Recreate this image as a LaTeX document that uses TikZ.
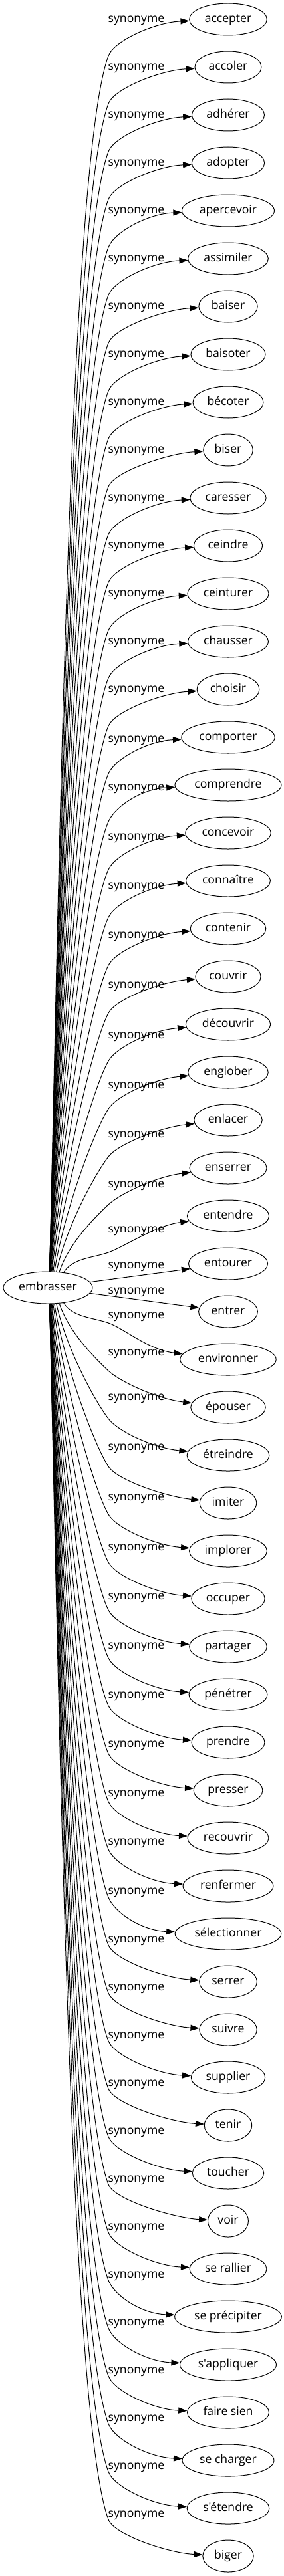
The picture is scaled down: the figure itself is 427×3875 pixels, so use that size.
\documentclass[tikz,border=0pt]{standalone}
\usepackage{fontspec}
\setmainfont{Open Sans}[Ligatures=TeXOff]
\usetikzlibrary{arrows.meta,shapes.geometric,calc}
\begin{document}
\begin{tikzpicture}[x=1pt,y=-1pt,
  word/.style={ellipse,draw,line width=1pt,inner xsep=6pt,inner ysep=0pt,minimum height=48pt,
    font=\fontsize{17.6}{20}\selectfont,text height=12.8pt,text depth=4pt},
  rel/.style={font=\fontsize{17.6}{20}\selectfont,inner sep=0pt,text height=12.8pt,text depth=4pt},
  link/.style={line width=1pt,-{Triangle[length=13pt,width=9pt]}}]
\useasboundingbox (0,0) rectangle (427,3875);
\node[word,minimum width=134pt,inner sep=0pt] (e) at (72,1937) {embrasser};
\foreach \w [count=\n from 0] in {accepter,accoler,adhérer,adopter,apercevoir,assimiler,baiser,baisoter,bécoter,biser,caresser,ceindre,ceinturer,chausser,choisir,comporter,comprendre,concevoir,connaître,contenir,couvrir,découvrir,englober,enlacer,enserrer,entendre,entourer,entrer,environner,épouser,étreindre,imiter,implorer,occuper,partager,pénétrer,prendre,presser,recouvrir,renfermer,sélectionner,serrer,suivre,supplier,tenir,toucher,voir,se rallier,se précipiter,s'appliquer,faire sien,se charger,s'étendre,biger}{
  \pgfmathsetmacro\Yn{29+72*\n}
  \node[word] (t\n) at (343,\Yn) {\w};
}
\def\offs{{0,0,0,0,0,0,0,0,0,0,0,0,0,0,0,3,4,6,8,10,13,17,20,22,25,21,3,-31,-66,-82,-87,-84,-80,-77,-75,-73,-71,-69,-67,-66,-64,-63,-63,-63,-63,-63,-63,-63,-63,-63,-63,-63,-63,-63}}
\foreach \i in {0,...,53}{
  \pgfmathsetmacro\Y{29+72*\i}
  \pgfmathsetmacro\ly{\Y+\offs[\i]}
  \node[rel] (l\i) at (205,\ly) {synonyme};
  \ifnum\i=26
    \draw[link] (e) -- (t\i);
  \else\ifnum\i=27
    \draw[link] (e) -- (t\i);
  \else
    \ifnum\i<27
      \def\s{-1}\pgfmathsetmacro\D{1937-\Y}
    \else
      \def\s{1}\pgfmathsetmacro\D{\Y-1937}
    \fi
    \pgfmathsetmacro\pa{88-18*exp(-(\D-108)/200)}
    \pgfmathsetmacro\Sx{72+67*cos(\pa)}
    \pgfmathsetmacro\Sy{1937+\s*24*sin(\pa)}
    \pgfmathsetmacro\ang{atan2(24*sin(\pa),67*cos(\pa))}
    \pgfmathsetmacro\anc{-\s*\ang}
    \pgfmathsetmacro\Vy{\Y-\s*55}
    \pgfmathsetmacro\cx{163-\Sx}
    \pgfmathsetmacro\cy{abs(\Vy-\Sy)}
    \pgfmathsetmacro\ga{atan2(\cy,\cx)}
    \pgfmathsetmacro\L{100*veclen(\cx/100,\cy/100)}
    \pgfmathsetmacro\be{90-(90-\ga)*0.5}
    \pgfmathsetmacro\th{0.8*\ga}
    \pgfmathsetmacro\La{0.35*\L}
    \pgfmathsetmacro\Lb{min(0.33*\L,20+0.08*\L)}
    \pgfmathsetmacro\Cax{\Sx+\La*cos(\be)}
    \pgfmathsetmacro\Cay{\Sy+\s*\La*sin(\be)}
    \pgfmathsetmacro\Cbx{163-\Lb*cos(\th)}
    \pgfmathsetmacro\Cby{\Vy-\s*\Lb*sin(\th)}
    \pgfmathsetmacro\Ccx{163+25*cos(\th)}
    \pgfmathsetmacro\Ccy{\Vy+\s*25*sin(\th)}
    \pgfmathsetmacro\ph{5+12*exp(-(\D-108)/300)}
    \pgfmathsetmacro\Cdx{-50*cos(\ph)}
    \pgfmathsetmacro\Cdy{-\s*50*sin(\ph)}
    \coordinate (v\i) at (163,\Vy);
    \draw[link] (e.\anc) .. controls (\Cax,\Cay) and (\Cbx,\Cby) .. (v\i)
      .. controls (\Ccx,\Ccy) and ($(t\i.west)+(\Cdx,\Cdy)$) .. (t\i);
  \fi\fi
}
\end{tikzpicture}
\end{document}
